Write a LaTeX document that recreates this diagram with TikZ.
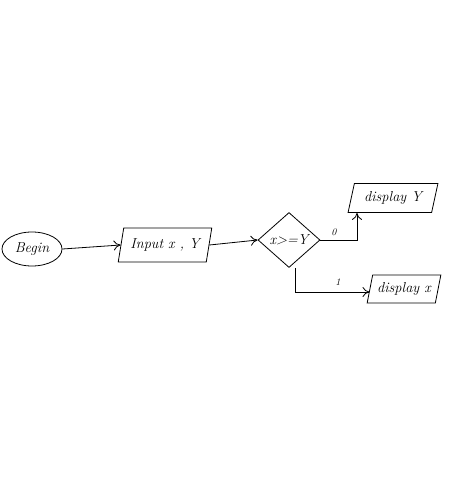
\documentclass[tikz,border=0pt]{standalone}
\usetikzlibrary{shapes.geometric,arrows.meta}
\begin{document}
\begin{tikzpicture}[x=1pt,y=-1pt,
  every node/.style={font=\itshape\Large},
  base/.style={draw,line width=0.8pt},
  term/.style={base,ellipse,minimum width=60pt,minimum height=34pt,inner sep=0pt},
  io/.style={base,trapezium,trapezium left angle=70,trapezium right angle=110,
     trapezium stretches=true,inner sep=0pt},
  decide/.style={base,diamond,minimum width=62pt,minimum height=55pt,inner sep=0pt},
  flow/.style={line width=0.8pt,-{To[length=7pt,width=10pt]}},
  lbl/.style={font=\normalsize\itshape}]
\useasboundingbox (0,0) rectangle (452,480);
\node[term] (begin) at (32,249) {Begin};
\node[io,minimum width=94pt,minimum height=34pt] (input) at (165,245) {Input x , Y};
% the decision shape is drawn empty; its text is set on top of it
\node[decide] (cond) at (289,240) {};
\node (condtext) at (cond.center) {x>=Y};
\node[io,minimum width=90pt,minimum height=29pt] (dispY) at (393,198) {display Y};
\node[io,minimum width=74pt,minimum height=28pt] (dispX) at (404,289) {display x};
\coordinate (c0) at (357,240);
\coordinate (c1) at (295,292);
\draw[flow] (begin.east) -- (input.west);
\draw[flow] (input.east) -- (cond.west);
\draw[flow] (cond.east) -- (c0) -- (c0 |- dispY.south);
\draw[flow] (cond.south -| c1) -- (c1) -- (c1 -| dispX.west);
\node[lbl] (l0) at (334,232) {0};
\node[lbl] (l1) at (338,282) {1};
\end{tikzpicture}
\end{document}
